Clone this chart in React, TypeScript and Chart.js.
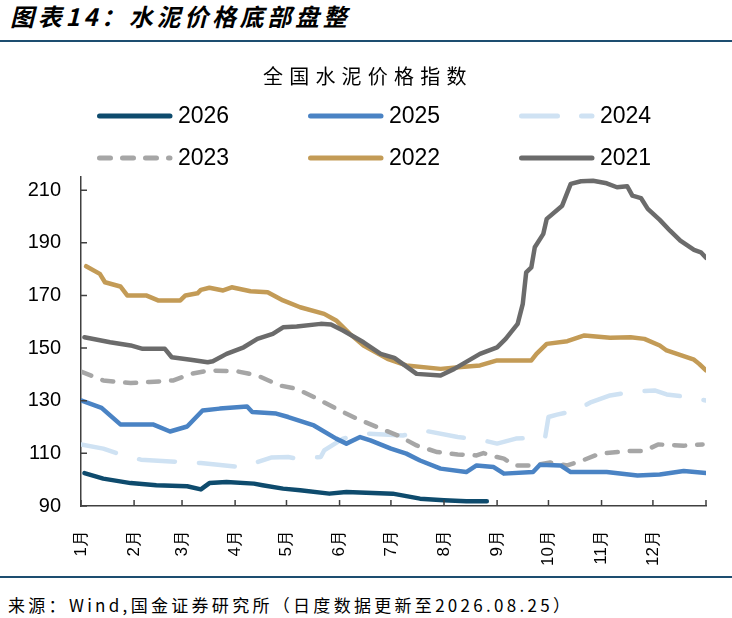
import React, { useEffect, useRef } from "react";
import Chart from "chart.js/auto";

const HEADING = "图表14：水泥价格底部盘整";
const CHART_TITLE = "全国水泥价格指数";
const SOURCE = "来源：Wind,国金证券研究所（日度数据更新至2026.08.25）";

// month ticks (day of year where each month starts) and their labels
const MONTH_STARTS = [0, 31, 59, 90, 120, 151, 181, 212, 243, 273, 304, 334, 365];
const MONTH_LABELS = ["1月", "2月", "3月", "4月", "5月", "6月", "7月", "8月", "9月", "10月", "11月", "12月"];
const Y_TICKS = [90, 110, 130, 150, 170, 190, 210];

const YEARS = ["2026", "2025", "2024", "2023", "2022", "2021"];

const DAYS_2026 = [2, 13, 29, 44, 62, 70, 75, 85, 101, 106, 118, 128, 145, 155, 182, 198, 212, 225, 237];
const VALUES_2026 = [102.5, 100.4, 98.7, 97.9, 97.5, 96.3, 98.7, 99.1, 98.5, 97.9, 96.6, 96.0, 94.7, 95.3, 94.7, 92.8, 92.2, 91.8, 91.8];

const DAYS_2025 = [0, 12, 16, 23, 42, 52, 62, 71, 81, 97, 100, 114, 121, 136, 149, 155, 163, 169, 181, 190, 198, 210, 225, 231, 241, 247, 264, 268, 280, 286, 307, 325, 338, 352, 365];
const VALUES_2025 = [130.1, 127.3, 125, 121, 121, 118.3, 120.2, 126.3, 127, 127.8, 125.7, 125.1, 123.8, 120.6, 115.6, 113.7, 116.2, 114.9, 111.8, 109.9, 107.3, 104.2, 102.9, 105.4, 104.8, 102.3, 102.9, 105.7, 105.4, 102.9, 102.9, 101.6, 102, 103.3, 102.5];

const DAYS_2024 = [0, 13, 23, 35, 58, 70, 93, 103, 111, 121, 126, 140, 142, 153, 167, 188, 200, 220, 233, 243, 254, 266, 271, 273, 278, 289, 298, 309, 321, 335, 342, 354, 365];
const VALUES_2024 = [113.4, 111.8, 109.6, 107.6, 106.7, 106.3, 104.8, 106.7, 108.4, 108.6, 108, 108.6, 111.1, 115.6, 117.5, 116.8, 118.7, 116.2, 115.2, 113.7, 115.6, 115.9, 115.9, 123.8, 124.7, 126.3, 129.5, 132, 133.3, 133.9, 132.4, 131.4, 130.1];

const DAYS_2023 = [0, 13, 29, 40, 54, 64, 75, 91, 103, 116, 126, 136, 149, 161, 175, 185, 196, 208, 220, 231, 235, 243, 247, 253, 264, 274, 284, 294, 303, 321, 329, 337, 352, 363];
const VALUES_2023 = [141.1, 137.7, 136.7, 137.1, 137.7, 140.2, 141.5, 141.2, 139.6, 135.8, 134.5, 131.4, 127, 123.2, 119.4, 116.8, 113, 110.5, 109.6, 109.2, 110.1, 108.6, 108, 105.4, 105.4, 106.5, 105.4, 107.6, 109.9, 110.9, 110.9, 113.4, 112.9, 113.4];

const DAYS_2022 = [3, 11, 14, 23, 27, 38, 45, 58, 61, 68, 70, 75, 83, 88, 99, 109, 118, 128, 142, 149, 157, 165, 179, 190, 210, 222, 233, 243, 263, 266, 272, 284, 294, 309, 321, 329, 338, 342, 358, 361, 365];
const VALUES_2022 = [181.1, 178.2, 175, 173.4, 170, 170, 168.1, 168.1, 170, 170.8, 172.1, 172.9, 171.9, 173.1, 171.6, 171.2, 168.1, 165.5, 163, 160.5, 155.4, 151, 145.9, 143.4, 142.1, 142.8, 143.4, 145.3, 145.3, 147.8, 151.6, 152.6, 154.8, 153.9, 154.1, 153.5, 151, 149.1, 145.6, 144, 141.5];

const DAYS_2021 = [2, 17, 29, 36, 49, 53, 64, 74, 77, 85, 95, 103, 112, 118, 126, 140, 146, 153, 165, 175, 183, 196, 210, 218, 233, 243, 248, 255, 258, 260, 263, 265, 270, 272, 281, 286, 292, 299, 307, 313, 319, 322, 327, 331, 338, 344, 350, 358, 362, 365];
const VALUES_2021 = [154.1, 152.2, 151, 149.7, 149.7, 146.5, 145.6, 144.6, 145, 147.8, 150.3, 153.5, 155.4, 157.9, 158.2, 159.2, 159, 156.7, 152.2, 147.8, 146.3, 140.2, 139.6, 142.1, 147.8, 150.3, 153.5, 159.2, 166.8, 178.8, 180.7, 188.3, 193.4, 199.1, 204.1, 212.4, 213.4, 213.6, 212.6, 211.1, 211.5, 207.9, 207, 202.9, 198.7, 194.6, 190.8, 187.3, 186.4, 184.3];

const SERIES_DAYS = [DAYS_2026, DAYS_2025, DAYS_2024, DAYS_2023, DAYS_2022, DAYS_2021];
const SERIES_VALUES = [VALUES_2026, VALUES_2025, VALUES_2024, VALUES_2023, VALUES_2022, VALUES_2021];

// styles, same order as YEARS
const COLORS = ["#0E4B6D", "#4A83C4", "#CFE2F3", "#A6A6A6", "#C39B56", "#6B6B6B"];
const DASHES: number[][] = [[], [], [36, 24], [11, 12], [], []];
const DRAW_ORDER = [2, 1, 5, 4, 3, 0];

const AXIS_COLOR = "#404040";
const LINE_COLOR = "#1D4E70";
const CJK = '"Noto Sans CJK SC"';
const LATIN = '"Liberation Sans", Arial';

const titleLegendPlugin = {
  id: "titleLegend",
  afterDraw(chart: any) {
    const ctx = chart.ctx as CanvasRenderingContext2D;
    ctx.save();
    ctx.fillStyle = "#000";
    ctx.textBaseline = "middle";
    ctx.textAlign = "left";
    ctx.font = `20px ${CJK}`;
    (ctx as any).letterSpacing = "6.2px";
    ctx.fillText(CHART_TITLE, 263, 26);
    (ctx as any).letterSpacing = "0px";

    const cols = [97, 308, 519];
    const rows = [66, 108];
    chart.data.datasets.forEach((ds: any, i: number) => {
      const x0 = cols[i % 3];
      const y0 = rows[Math.floor(i / 3)];
      ctx.save();
      ctx.strokeStyle = ds.borderColor;
      ctx.lineWidth = 5;
      ctx.lineCap = "round";
      ctx.setLineDash(ds.borderDash || []);
      ctx.beginPath();
      ctx.moveTo(x0 + 2.5, y0);
      ctx.lineTo(x0 + 73, y0);
      ctx.stroke();
      ctx.restore();
      ctx.font = `23px ${LATIN}`;
      ctx.fillStyle = "#000";
      ctx.fillText(ds.label, x0 + 81, y0 + 1);
    });
    ctx.restore();
  },
};

const innerTicksPlugin = {
  id: "innerTicks",
  afterDatasetsDraw(chart: any) {
    const { ctx, chartArea, scales } = chart;
    ctx.save();
    ctx.strokeStyle = AXIS_COLOR;
    ctx.lineWidth = 1.5;
    ctx.beginPath();
    MONTH_STARTS.forEach((d) => {
      const x = scales.x.getPixelForValue(d);
      ctx.moveTo(x, chartArea.bottom);
      ctx.lineTo(x, chartArea.bottom - 6);
    });
    Y_TICKS.forEach((v) => {
      const y = scales.y.getPixelForValue(v);
      ctx.moveTo(chartArea.left, y);
      ctx.lineTo(chartArea.left + 6, y);
    });
    ctx.stroke();
    ctx.restore();
  },
};

function CementChart(): JSX.Element {
  const chartRef = useRef<HTMLCanvasElement | null>(null);
  const chartInstance = useRef<Chart | null>(null);

  useEffect(() => {
    if (!chartRef.current) return;
    const ctx = chartRef.current.getContext("2d");
    if (!ctx) return;
    if (chartInstance.current) chartInstance.current.destroy();

    const datasets = YEARS.map((year, i) => ({
      label: year,
      data: SERIES_DAYS[i].map((d, j) => ({ x: d, y: SERIES_VALUES[i][j] })),
      borderColor: COLORS[i],
      backgroundColor: COLORS[i],
      borderWidth: 4.5,
      borderDash: DASHES[i],
      borderCapStyle: "round" as const,
      borderJoinStyle: "round" as const,
      pointRadius: 0,
      tension: 0,
      order: DRAW_ORDER[i],
    }));

    chartInstance.current = new Chart(ctx, {
      type: "line",
      data: { datasets },
      options: {
        animation: false,
        responsive: false,
        layout: { padding: { top: 127, right: 26, left: 0, bottom: 0 } },
        plugins: {
          legend: { display: false },
          title: { display: false },
          tooltip: { enabled: false },
        },
        scales: {
          x: {
            type: "linear",
            min: 0,
            max: 365,
            afterFit: (scale: any) => {
              scale.height = 69;
            },
            afterBuildTicks: (scale: any) => {
              scale.ticks = MONTH_STARTS.slice(0, 12).map((v) => ({ value: v }));
            },
            grid: { display: true, drawOnChartArea: false, drawTicks: false },
            border: { display: true, color: AXIS_COLOR, width: 1.5 },
            ticks: {
              autoSkip: false,
              minRotation: 90,
              maxRotation: 90,
              padding: 24,
              color: "#000",
              font: { family: LATIN, size: 17 },
              callback: (_v: any, index: number) => MONTH_LABELS[index],
            },
          },
          y: {
            min: 90,
            max: 215,
            afterFit: (scale: any) => {
              scale.width = 81;
            },
            afterBuildTicks: (scale: any) => {
              scale.ticks = Y_TICKS.map((v) => ({ value: v }));
            },
            grid: { display: true, drawOnChartArea: false, drawTicks: false },
            border: { display: true, color: AXIS_COLOR, width: 1.5 },
            ticks: {
              padding: 20,
              color: "#000",
              font: { family: LATIN, size: 20 },
            },
          },
        },
      },
      plugins: [innerTicksPlugin, titleLegendPlugin],
    });

    return () => {
      chartInstance.current?.destroy();
      chartInstance.current = null;
    };
  }, []);

  return <canvas ref={chartRef} width={732} height={525} style={{ width: 732, height: 525 }} />;
}

export default function App(): JSX.Element {
  return (
    <div style={{ position: "absolute", left: 0, top: 0, width: 732, height: 618, background: "#fff", overflow: "hidden" }}>
      <div
        style={{
          position: "absolute",
          left: 10,
          top: 1,
          fontFamily: CJK,
          fontWeight: 700,
          fontStyle: "italic",
          fontSize: 24,
          letterSpacing: 3.7,
          lineHeight: "30px",
          whiteSpace: "nowrap",
          color: "#000",
        }}
      >
        {HEADING}
      </div>
      <div style={{ position: "absolute", left: 0, top: 40, width: 732, height: 1.5, background: LINE_COLOR }} />
      <div style={{ position: "absolute", left: 0, top: 50 }}>
        <CementChart />
      </div>
      <div style={{ position: "absolute", left: 0, top: 576, width: 732, height: 1.5, background: LINE_COLOR }} />
      <div
        style={{
          position: "absolute",
          left: 8,
          top: 591,
          fontFamily: CJK,
          fontSize: 17,
          letterSpacing: 3.3,
          lineHeight: "28px",
          whiteSpace: "nowrap",
          color: "#000",
        }}
      >
        {SOURCE}
      </div>
    </div>
  );
}
